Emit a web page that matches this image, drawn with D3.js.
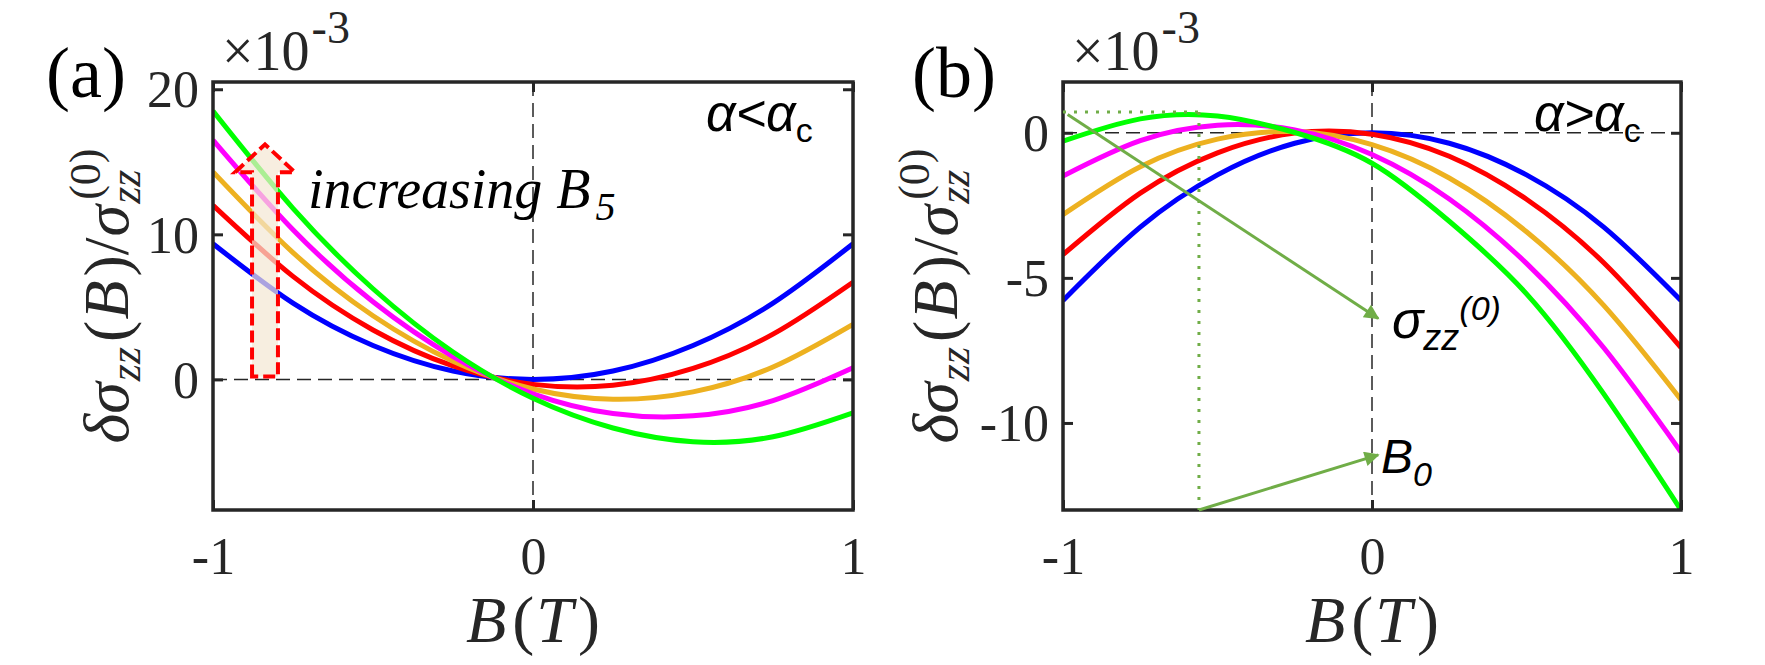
<!DOCTYPE html>
<html>
<head>
<meta charset="utf-8">
<script src="https://cdn.jsdelivr.net/npm/d3@7/dist/d3.min.js"></script>
<style>
  html, body { margin: 0; padding: 0; background: #fff; }
  svg { display: block; }
</style>
</head>
<body>
<svg id="chart" width="1765" height="665"></svg>
<script>
// ---------------- data ----------------
const Bvals = [-1, -0.75, -0.5, -0.25, 0, 0.25, 0.5, 0.75, 1];

// panel (a): alpha < alpha_c   (units of 1e-3)
const aBlue    = [9.35, 5.26, 2.34, 0.58, 0.00, 0.58, 2.34, 5.26, 9.35];
const aRed     = [12.0, 7.10, 3.41, 0.93, -0.34, -0.40, 0.76, 3.12, 6.70];
const aOrange  = [14.3, 8.74, 4.39, 1.26, -0.66, -1.37, -0.86, 0.86, 3.80];
const aMagenta = [16.5, 10.32, 5.35, 1.58, -0.99, -2.35, -2.51, -1.46, 0.80];
const aGreen   = [18.5, 11.79, 6.25, 1.89, -1.30, -3.35, -4.30, -3.95, -2.30];

// panel (b): alpha > alpha_c   (units of 1e-3)
const bBlue    = [-5.78, -3.25, -1.45, -0.36, 0.00, -0.36, -1.45, -3.25, -5.78];
const bRed     = [-4.20, -2.08, -0.69, -0.01, -0.05, -0.81, -2.29, -4.48, -7.40];
const bOrange  = [-2.82, -1.17, -0.22, 0.04, -0.41, -1.56, -3.41, -5.95, -9.20];
const bMagenta = [-1.49, -0.27, 0.26, 0.10, -0.75, -2.28, -4.50, -7.41, -11.0];
const bGreen   = [-0.29, 0.48, 0.58, 0.01, -1.05, -3.05, -5.55, -9.00, -13.0];

const seriesColors = ["#0000FF", "#FF0000", "#EDB120", "#FF00FF", "#00FF00"];

const xTicks = [-1, 0, 1];
const yTicksA = [0, 10, 20];
const yTicksB = [-10, -5, 0];
const xDomain = [-1, 1];
const yDomainA = [-9, 20.5];
const yDomainB = [-13, 1.75];

// annotation anchors (data coordinates)
const b0Peak = { B: -0.56, y: 0.72 };      // green dotted guide corner
const arrowSigma = { from: [-0.985, 0.63], to: [0.02, -6.4] };
const arrowB0 = { from: [-0.56, -13.0], to: [0.02, -11.1] };
const upArrow = { x0: -0.878, x1: -0.797, hx0: -0.931, hx1: -0.744, tipX: -0.8375, y0: 0.2, yBase: 14.28, yTip: 16.2 };

// ---------------- drawing ----------------
const svg = d3.select("#chart");
const INK = "#262626";
const serif = "'Liberation Serif', 'Times New Roman', serif";
const sans = "'Liberation Sans', 'Open Sans', sans-serif";

const defs = svg.append("defs");
defs.append("marker").attr("id", "ghead")
  .attr("viewBox", "0 0 10 10").attr("refX", 9).attr("refY", 5)
  .attr("markerWidth", 5.5).attr("markerHeight", 5).attr("markerUnits", "strokeWidth")
  .attr("orient", "auto")
  .append("path").attr("d", "M0,0 L10,5 L0,10 z").attr("fill", "#70AD47");

function panel(cfg) {
  const x = d3.scaleLinear(xDomain, cfg.xRange);
  const y = d3.scaleLinear(cfg.yDomain, [510, 82]);
  const g = svg.append("g");
  const [L, R] = cfg.xRange, T = 82, Bt = 510;

  defs.append("clipPath").attr("id", cfg.id + "clip")
    .append("rect").attr("x", L).attr("y", T).attr("width", R - L).attr("height", Bt - T);

  // reference dashed lines
  g.append("line").attr("x1", x(0)).attr("x2", x(0)).attr("y1", T).attr("y2", Bt)
    .attr("stroke", INK).attr("stroke-width", 1.5).attr("stroke-dasharray", "14,7");
  g.append("line").attr("x1", L).attr("x2", R).attr("y1", y(0)).attr("y2", y(0))
    .attr("stroke", INK).attr("stroke-width", 1.5).attr("stroke-dasharray", "14,7");

  // curves
  const line = d3.line().x((d, i) => x(Bvals[i])).y(d => y(d)).curve(d3.curveNatural);
  const cg = g.append("g").attr("clip-path", `url(#${cfg.id}clip)`);
  cfg.series.forEach((s, i) => {
    cg.append("path").attr("d", line(s)).attr("fill", "none")
      .attr("stroke", seriesColors[i]).attr("stroke-width", 5).attr("stroke-linecap", "butt");
  });

  // axes
  const fmt = d => String(d);
  const ax = g.append("g").attr("transform", `translate(0,${Bt})`)
    .call(d3.axisBottom(x).tickValues(xTicks).tickSize(-10).tickPadding(28).tickFormat(fmt));
  const axT = g.append("g").attr("transform", `translate(0,${T})`)
    .call(d3.axisTop(x).tickValues(xTicks).tickSize(-10).tickFormat(""));
  const ay = g.append("g").attr("transform", `translate(${L},0)`)
    .call(d3.axisLeft(y).tickValues(cfg.yTicks).tickSize(-10).tickPadding(14).tickFormat(fmt));
  const ayR = g.append("g").attr("transform", `translate(${R},0)`)
    .call(d3.axisRight(y).tickValues(cfg.yTicks).tickSize(-10).tickFormat(""));
  [ax, axT, ay, ayR].forEach(a => {
    a.select(".domain").remove();
    a.selectAll(".tick line").attr("stroke", INK).attr("stroke-width", 3);
    a.selectAll(".tick text").attr("fill", INK).attr("font-family", serif).attr("font-size", 52);
  });
  ax.selectAll(".tick text").attr("dy", "0.7em");
  ay.selectAll(".tick text").attr("dy", "0.34em");

  // frame
  g.append("rect").attr("x", L).attr("y", T).attr("width", R - L).attr("height", Bt - T)
    .attr("fill", "none").attr("stroke", INK).attr("stroke-width", 3.5);

  // exponent label ×10^-3
  const ex = g.append("text").attr("x", L + 9).attr("y", 70)
    .attr("font-family", serif).attr("font-size", 56).attr("fill", INK);
  ex.append("tspan").text("×10");
  ex.append("tspan").attr("font-size", 46).attr("dy", -27).attr("dx", 2).text("-3");

  // panel letter
  g.append("text").attr("x", cfg.letterX).attr("y", 97)
    .attr("font-family", serif).attr("font-size", 72).attr("fill", "#000").text(cfg.letter);

  // x label B(T)
  const xl = g.append("text").attr("x", x(0)).attr("y", 642).attr("text-anchor", "middle")
    .attr("font-family", serif).attr("font-size", 66).attr("fill", INK);
  xl.append("tspan").attr("font-style", "italic").text("B");
  xl.append("tspan").attr("dx", 6).text("(");
  xl.append("tspan").attr("dx", 2).attr("font-style", "italic").text("T");
  xl.append("tspan").attr("dx", 5).text(")");

  // y label, rotated and centred on the axes box
  const yl = g.append("g").attr("transform", `translate(${cfg.ylabX},${(T + Bt) / 2}) rotate(-90)`);
  const pieces = [
    { t: "δσ", it: true, fs: 64, dy: 0 },
    { t: "zz", it: true, fs: 44, dy: 12 },
    { t: "(", it: false, fs: 64, dy: 0, gap: 4 },
    { t: "B", it: true, fs: 64, dy: 0 },
    { t: ")/", it: false, fs: 64, dy: 0, gap: 3 },
    { t: "σ", it: true, fs: 64, dy: 0 },
    { t: "zz", it: true, fs: 44, dy: 12 },
    { t: "(0)", it: false, fs: 44, dy: -28, stacked: true }
  ];
  let cx = 0, lastStart = 0;
  const nodes = [];
  pieces.forEach(p => {
    const tx = yl.append("text").attr("y", p.dy)
      .attr("font-family", serif).attr("font-size", p.fs).attr("fill", INK)
      .attr("font-style", p.it ? "italic" : "normal").text(p.t);
    let startX = p.stacked ? lastStart + 4 : cx + (p.gap || 0);
    tx.attr("x", startX);
    const w = tx.node().getComputedTextLength();
    lastStart = startX;
    cx = Math.max(cx, startX + w) + (p.stacked ? 0 : 1);
    nodes.push(tx);
  });
  nodes.forEach(n => n.attr("x", +n.attr("x") - cx / 2));

  // regime label
  const rl = g.append("text").attr("x", cfg.regimeX).attr("y", 131)
    .attr("font-family", sans).attr("font-style", "italic").attr("font-size", 52).attr("fill", "#000");
  rl.append("tspan").text(cfg.regime);
  rl.append("tspan").attr("font-size", 34).attr("font-style", "normal").attr("dy", 11).text("c");

  return { g, x, y };
}

// panel (a)
const A = panel({
  id: "a", xRange: [213, 853], yDomain: yDomainA, yTicks: yTicksA,
  series: [aBlue, aRed, aOrange, aMagenta, aGreen],
  letter: "(a)", letterX: 46, ylabX: 128, regime: "α<α", regimeX: 706
});

// up arrow annotation in (a)
{
  const { g, x, y } = A;
  const u = upArrow;
  const pts = [
    [x(u.x0), y(u.y0)], [x(u.x0), y(u.yBase)], [x(u.hx0), y(u.yBase)], [x(u.tipX), y(u.yTip)],
    [x(u.hx1), y(u.yBase)], [x(u.x1), y(u.yBase)], [x(u.x1), y(u.y0)]
  ];
  g.append("polygon").attr("points", pts.map(p => p.join(",")).join(" "))
    .attr("fill", "#F3E7D3").attr("fill-opacity", 0.7)
    .attr("stroke", "#FF0000").attr("stroke-width", 4).attr("stroke-dasharray", "12,5")
    .attr("stroke-linejoin", "miter");
  const t = g.append("text").attr("x", 308).attr("y", 208)
    .attr("font-family", serif).attr("font-style", "italic").attr("font-size", 56).attr("fill", "#000");
  t.append("tspan").text("increasing B");
  t.append("tspan").attr("font-size", 40).attr("dy", 12).attr("dx", 5).text("5");
}

// panel (b)
const Bp = panel({
  id: "b", xRange: [1063, 1681], yDomain: yDomainB, yTicks: yTicksB,
  series: [bBlue, bRed, bOrange, bMagenta, bGreen],
  letter: "(b)", letterX: 912, ylabX: 957, regime: "α>α", regimeX: 1534
});

// annotations in (b)
{
  const { g, x, y } = Bp;
  const G = "#70AD47";
  g.append("line").attr("x1", x(-1)).attr("x2", x(b0Peak.B)).attr("y1", y(b0Peak.y)).attr("y2", y(b0Peak.y))
    .attr("stroke", G).attr("stroke-width", 3).attr("stroke-dasharray", "3,8");
  g.append("line").attr("x1", x(b0Peak.B)).attr("x2", x(b0Peak.B)).attr("y1", y(b0Peak.y)).attr("y2", y(-13))
    .attr("stroke", G).attr("stroke-width", 3).attr("stroke-dasharray", "3,8");
  [arrowSigma, arrowB0].forEach(a => {
    g.append("line").attr("x1", x(a.from[0])).attr("y1", y(a.from[1]))
      .attr("x2", x(a.to[0])).attr("y2", y(a.to[1]))
      .attr("stroke", G).attr("stroke-width", 3).attr("marker-end", "url(#ghead)");
  });
  const s = g.append("text").attr("x", 1392).attr("y", 338)
    .attr("font-family", sans).attr("font-style", "italic").attr("font-size", 52).attr("fill", "#000");
  s.append("tspan").text("σ");
  s.append("tspan").attr("font-size", 36).attr("dy", 12).text("zz");
  s.append("tspan").attr("font-size", 34).attr("dy", -30).text("(0)");
  const b0 = g.append("text").attr("x", 1381).attr("y", 473)
    .attr("font-family", sans).attr("font-style", "italic").attr("font-size", 48).attr("fill", "#000");
  b0.append("tspan").text("B");
  b0.append("tspan").attr("font-size", 34).attr("dy", 13).text("0");
}
</script>
</body>
</html>
